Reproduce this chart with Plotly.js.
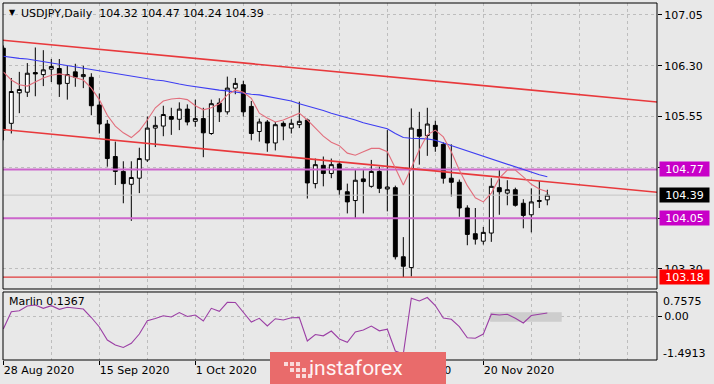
<!DOCTYPE html>
<html><head><meta charset="utf-8">
<script src="https://cdn.plot.ly/plotly-3.0.1.min.js"></script>
<style>html,body{margin:0;padding:0;background:#e8e8e8;}#chart{width:714px;height:384px;}</style>
</head><body><div id="chart"></div>
<script>
// ---- data (bar index 0 = 28 Aug 2020, last = 2 Dec 2020) ----
const openP  = [106.56,105.45,105.90,105.91,106.20,106.17,106.25,106.26,106.04,106.21,106.14,106.13,105.72,105.44,104.96,104.74,104.55,104.64,104.91,105.38,105.41,105.55,105.51,105.66,105.48,105.52,105.30,105.75,105.62,105.97,106.02,105.70,105.33,105.47,105.16,105.45,105.38,105.43,105.50,104.56,104.83,104.71,104.85,104.44,104.31,104.63,104.52,104.74,104.48,104.50,103.48,103.32,105.36,105.27,105.42,105.14,104.64,104.58,104.20,103.82,103.71,103.83,104.50,104.42,104.47,104.27,104.10,104.31,104.32];
const highP  = [106.60,106.12,106.21,106.34,106.57,106.53,106.40,106.40,106.30,106.33,106.30,106.19,105.89,105.50,105.18,104.89,104.89,105.09,105.55,105.55,105.71,105.68,105.76,105.73,105.80,105.68,105.80,105.82,106.14,106.12,106.08,105.78,105.52,105.50,105.47,105.48,105.51,105.77,105.52,104.93,104.96,104.93,104.88,104.56,104.76,104.76,104.91,104.81,105.35,104.53,103.77,105.67,105.62,105.68,105.49,105.17,105.14,104.62,104.24,104.20,103.92,104.64,104.76,104.61,104.50,104.33,104.49,104.60,104.47];
const lowP   = [105.20,105.30,105.60,105.84,105.85,106.00,106.06,105.84,105.80,105.99,105.97,105.57,105.30,104.81,104.54,104.27,104.01,104.42,104.88,105.10,105.26,105.28,105.35,105.42,105.40,104.95,105.28,105.47,105.58,105.88,105.55,105.20,105.18,105.03,105.05,105.20,105.30,105.38,104.34,104.49,104.52,104.64,104.39,104.12,104.04,104.12,104.50,104.42,104.15,103.44,103.18,103.19,104.84,104.97,105.03,104.56,104.37,104.07,103.65,103.66,103.66,103.70,104.10,104.24,104.22,103.90,103.84,104.20,104.24];
const closeP = [105.35,105.92,105.95,106.19,106.18,106.24,106.29,106.03,106.17,106.13,106.17,105.71,105.44,104.93,104.74,104.56,104.65,104.93,105.38,105.42,105.58,105.51,105.66,105.47,105.52,105.31,105.74,105.62,105.97,106.04,105.62,105.30,105.47,105.16,105.43,105.41,105.45,105.48,104.57,104.84,104.71,104.84,104.47,104.29,104.61,104.59,104.74,104.49,104.51,103.48,103.34,105.38,105.26,105.44,105.11,104.64,104.58,104.20,103.81,103.74,103.84,104.52,104.44,104.47,104.24,104.09,104.29,104.30,104.39];
const maFast = [106.21,106.09,106.02,106.00,106.06,106.12,106.16,106.18,106.16,106.13,106.09,105.97,105.80,105.57,105.41,105.31,105.24,105.34,105.50,105.68,105.78,105.81,105.82,105.80,105.71,105.65,105.68,105.74,105.87,105.94,105.91,105.82,105.60,105.53,105.47,105.50,105.55,105.60,105.50,105.38,105.26,105.17,105.12,105.01,104.98,105.03,105.08,105.08,105.03,104.79,104.54,104.79,105.06,105.28,105.35,105.25,105.03,104.76,104.53,104.35,104.29,104.42,104.64,104.76,104.76,104.66,104.55,104.48,104.44];
const maSlow = [106.44,106.42,106.41,106.40,106.38,106.36,106.34,106.32,106.30,106.28,106.26,106.24,106.22,106.21,106.19,106.17,106.15,106.13,106.11,106.09,106.08,106.05,106.03,106.01,105.99,105.98,105.96,105.94,105.93,105.91,105.90,105.88,105.87,105.85,105.83,105.80,105.78,105.74,105.71,105.67,105.64,105.60,105.57,105.53,105.50,105.46,105.43,105.40,105.37,105.30,105.24,105.23,105.23,105.22,105.20,105.16,105.12,105.08,105.04,105.01,104.97,104.93,104.89,104.85,104.80,104.76,104.72,104.69,104.66];
const marlin = [-0.498,0.191,0.231,0.419,0.459,0.327,0.431,0.287,0.367,0.327,0.299,-0.040,-0.419,-0.937,-1.136,-1.236,-1.069,-0.698,-0.167,-0.080,0.032,-0.020,0.159,0.000,0.060,-0.179,0.327,0.207,0.566,0.558,0.159,-0.219,-0.072,-0.379,-0.088,-0.140,-0.052,-0.040,-0.977,-0.718,-0.770,-0.578,-0.897,-1.029,-0.618,-0.538,-0.379,-0.570,-0.506,-1.376,-1.4913,0.726,0.618,0.7575,0.439,-0.060,-0.112,-0.407,-0.849,-0.869,-0.698,0.092,0.060,0.092,-0.072,-0.259,0.040,0.092,0.1367];
const tickBars   = [0,12,24,36,48,60];
const tickLabels = ['28 Aug 2020','15 Sep 2020','1 Oct 2020','19 Oct 2020','4 Nov 2020','20 Nov 2020'];
const priceTicks = [103.30,104.05,104.80,105.55,106.30,107.05];
const magentaLevels = [104.77,104.05];
const redLevels = [103.18];
const upperChannel = {bars:[-1,82], price:[106.687,105.763]};
const lowerChannel = {bars:[-1,82], price:[105.369,104.429]};
const marlinZone = {bars:[60.85,69.8], value:[-0.207,0.167]};
const marlinMax = 0.7575, marlinMin = -1.4913;
const symbolText = 'USDJPY,Daily';

// ---- build ----
const idx = closeP.map((_,i)=>i);
const last = closeP[closeP.length-1];
const FONT = 'DejaVu Sans';
const px = p => (p-3)/654;
const py = p => (360-p)/357;
const span = [-1,83];

const traces = [];
magentaLevels.forEach(v=>traces.push({type:'scatter',mode:'lines',x:span,y:[v,v],line:{color:'#cc66cc',width:2},hoverinfo:'skip'}));
redLevels.forEach(v=>traces.push({type:'scatter',mode:'lines',x:span,y:[v,v],line:{color:'#e03a3a',width:1.2},hoverinfo:'skip'}));
traces.push({type:'scatter',mode:'lines',x:span,y:[last,last],line:{color:'#c4c4c4',width:1},hoverinfo:'skip'});
[upperChannel,lowerChannel].forEach(c=>traces.push({type:'scatter',mode:'lines',x:c.bars,y:c.price,line:{color:'#e8393c',width:1.6},hoverinfo:'skip'}));
traces.push({type:'candlestick',x:idx,open:openP,high:highP,low:lowP,close:closeP,
  increasing:{line:{color:'#000',width:1},fillcolor:'#ffffff'},
  decreasing:{line:{color:'#000',width:1},fillcolor:'#000000'},
  whiskerwidth:0,hoverinfo:'skip',xaxis:'x',yaxis:'y'});
traces.push({type:'scatter',mode:'lines',x:idx,y:maSlow,line:{color:'#3d3df2',width:1.1},hoverinfo:'skip'});
traces.push({type:'scatter',mode:'lines',x:idx,y:maFast,line:{color:'#e26e7c',width:1.1},hoverinfo:'skip'});
traces.push({type:'scatter',mode:'lines',x:[marlinZone.bars[0],marlinZone.bars[1],marlinZone.bars[1],marlinZone.bars[0],marlinZone.bars[0]],
  y:[marlinZone.value[0],marlinZone.value[0],marlinZone.value[1],marlinZone.value[1],marlinZone.value[0]],
  fill:'toself',fillcolor:'#cdcdcd',line:{width:0,color:'rgba(0,0,0,0)'},xaxis:'x',yaxis:'y2',hoverinfo:'skip'});
traces.push({type:'scatter',mode:'lines',x:idx,y:marlin,line:{color:'#9b3fa5',width:1.1},xaxis:'x',yaxis:'y2',hoverinfo:'skip'});

const gridC = '#bdbdbd';
const tf = {family:FONT,size:11,color:'#000'};
const ann = [];
ann.push({xref:'paper',yref:'paper',x:px(7),y:py(12),xanchor:'left',yanchor:'middle',text:'▼',showarrow:false,font:{family:FONT,size:8,color:'#000'}});
ann.push({xref:'paper',yref:'paper',x:px(19),y:py(13),xanchor:'left',yanchor:'middle',showarrow:false,font:tf,
  text:symbolText+'  '+[openP,highP,lowP,closeP].map(a=>a[a.length-1].toFixed(2)).join(' ')});
function tag(v,bg){ann.push({xref:'paper',yref:'y',x:1,xshift:2,y:v,xanchor:'left',yanchor:'middle',text:v.toFixed(2),showarrow:false,
  bgcolor:bg,font:{family:FONT,size:11,color:'#fff'},width:47,height:12,borderpad:1,align:'center'});}
magentaLevels.forEach(v=>tag(v,'#c800c8'));
tag(last,'#000000');
redLevels.forEach(v=>tag(v,'#ff0000'));
ann.push({xref:'paper',yref:'paper',x:px(7),y:py(301),xanchor:'left',yanchor:'middle',text:'Marlin '+marlin[marlin.length-1].toFixed(4),showarrow:false,font:tf});
ann.push({xref:'paper',yref:'paper',x:px(661),y:py(301),xanchor:'left',yanchor:'middle',text:marlinMax.toFixed(4),showarrow:false,font:tf});
ann.push({xref:'paper',yref:'paper',x:px(661),y:py(353),xanchor:'left',yanchor:'middle',text:marlinMin.toFixed(4),showarrow:false,font:tf});
ann.push({xref:'paper',yref:'paper',x:px(356),y:py(368),xanchor:'center',yanchor:'middle',text:'instaforex',showarrow:false,font:{family:'Roboto',size:21,color:'#fff4f4'}});

const shapes = [
  {type:'rect',xref:'paper',yref:'y domain',x0:0,x1:1,y0:0,y1:1,line:{color:'#000',width:1},fillcolor:'rgba(0,0,0,0)',layer:'above'},
  {type:'rect',xref:'paper',yref:'y2 domain',x0:0,x1:1,y0:0,y1:1,line:{color:'#000',width:1},fillcolor:'rgba(0,0,0,0)',layer:'above'},
  {type:'rect',xref:'paper',yref:'paper',x0:px(270),x1:px(446),y0:py(384),y1:py(352),line:{width:0},fillcolor:'#e96b6b',layer:'above'}
];
// small logo mark left of the watermark text
[[284,362],[290,362],[296,362],[290,368],[296,368],[302,368],[296,374],[302,374],[308,374]].forEach(([a,b])=>shapes.push(
  {type:'rect',xref:'paper',yref:'paper',x0:px(a),x1:px(a+4),y0:py(b+4),y1:py(b),line:{width:0},fillcolor:'rgba(255,255,255,0.75)',layer:'above'}));

const layout = {
  width:714,height:384,margin:{l:3,r:57,t:3,b:24,pad:0},
  paper_bgcolor:'#e8e8e8',plot_bgcolor:'#e8e8e8',showlegend:false,
  xaxis:{range:[-0.04,81.71],tickmode:'array',tickvals:tickBars,ticktext:tickLabels,ticks:'outside',ticklen:4,tickcolor:'#000',
    ticklabelposition:'outside right',showgrid:true,gridcolor:gridC,griddash:'dot',gridwidth:1,
    minor:{tick0:0,dtick:6,showgrid:true,gridcolor:gridC,griddash:'dot',ticks:''},
    zeroline:false,showline:false,anchor:'y2',tickfont:tf,rangeslider:{visible:false},fixedrange:true},
  yaxis:{domain:[0.1989,1],range:[103.004,107.227],side:'right',tickmode:'array',tickvals:priceTicks,ticktext:priceTicks.map(v=>v.toFixed(2)),
    ticks:'outside',ticklen:4,tickcolor:'#000',showgrid:true,gridcolor:gridC,griddash:'dot',zeroline:false,tickfont:tf,fixedrange:true},
  yaxis2:{domain:[0,0.1905],range:[-1.734,0.977],side:'right',tickmode:'array',tickvals:[0],ticktext:['0.00'],
    ticks:'outside',ticklen:4,tickcolor:'#000',showgrid:true,gridcolor:gridC,griddash:'dot',zeroline:false,tickfont:tf,fixedrange:true,anchor:'x'},
  shapes:shapes,annotations:ann
};
Plotly.newPlot('chart',traces,layout,{staticPlot:true,displayModeBar:false});
</script></body></html>
